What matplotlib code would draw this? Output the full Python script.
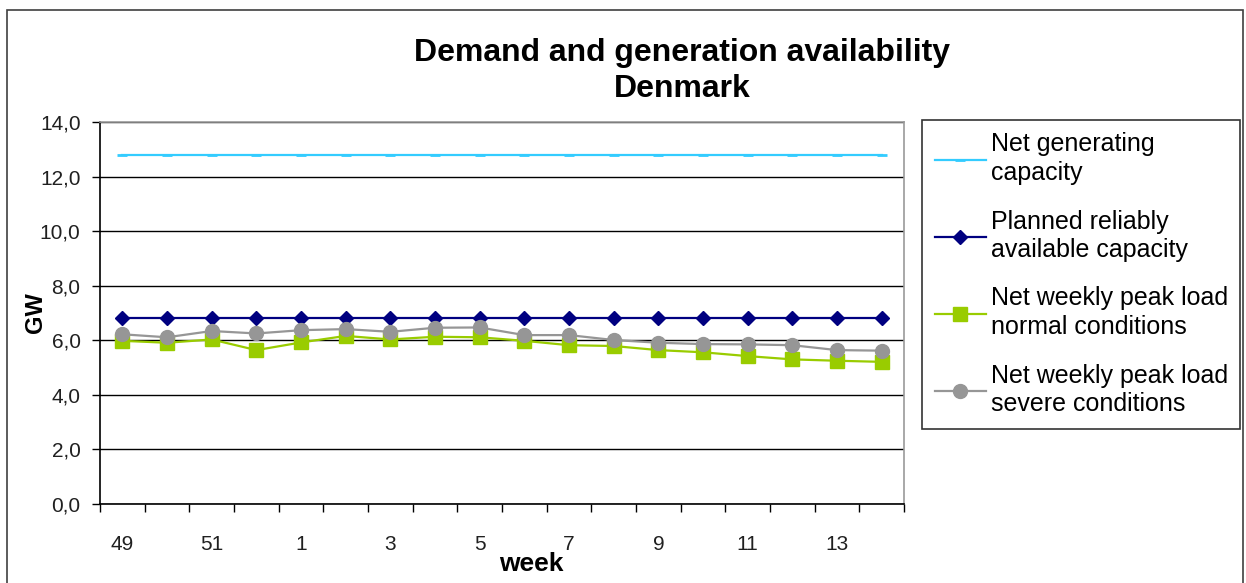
import matplotlib.pyplot as plt
import numpy as np
from matplotlib.patches import Rectangle
from matplotlib.lines import Line2D

plt.rcParams['font.family'] = ['Liberation Sans', 'DejaVu Sans']

# данные
weeks = ['49', '50', '51', '52', '1', '2', '3', '4', '5',
         '6', '7', '8', '9', '10', '11', '12', '13', '14']
net_capacity = [12.8] * 18
reliable_capacity = [6.8] * 18
load_normal = [5.98, 5.91, 6.03, 5.64, 5.92, 6.16, 6.03, 6.13, 6.11,
               5.98, 5.82, 5.79, 5.64, 5.56, 5.42, 5.30, 5.25, 5.21]
load_severe = [6.22, 6.11, 6.34, 6.25, 6.37, 6.41, 6.31, 6.46, 6.47,
               6.19, 6.19, 6.01, 5.91, 5.86, 5.85, 5.82, 5.64, 5.62]
labels = ['Net generating\ncapacity',
          'Planned reliably\navailable capacity',
          'Net weekly peak load\nnormal conditions',
          'Net weekly peak load\nsevere conditions']

W, H = 1246, 583
fig = plt.figure(figsize=(W / 100, H / 100), dpi=100)
fig.patches.append(Rectangle((7 / W, -0.1), (1243 - 7) / W, 1 - 10 / H + 0.1,
                             transform=fig.transFigure, fill=False,
                             edgecolor='#404040', linewidth=1.2))

ax = fig.add_axes([100 / W, (H - 504) / H, 804 / W, (504 - 122) / H])
x = np.arange(len(weeks))

ax.plot(x, net_capacity, color='#33CCFF', lw=1.6, marker='_', ms=7,
        mew=2, zorder=3)
ax.plot(x, reliable_capacity, color='#000080', lw=1.6, marker='D', ms=7,
        zorder=3)
ax.plot(x, load_normal, color='#99CC00', lw=1.6, marker='s', ms=10,
        zorder=4)
ax.plot(x, load_severe, color='#969696', lw=1.6, marker='o', ms=10,
        zorder=5)

ax.set_xlim(-0.5, len(weeks) - 0.5)
ax.set_ylim(0, 14)
ax.set_yticks(np.arange(0, 14.1, 2))
ax.set_yticklabels([f'{v:.1f}'.replace('.', ',') for v in np.arange(0, 14.1, 2)],
                   fontsize=15, color='#202020')
ax.yaxis.grid(True, color='black', lw=1)
ax.set_axisbelow(True)

# подписи недель через одну, засечки между категориями
ax.set_xticks(x[::2])
ax.set_xticklabels(weeks[::2], fontsize=15, color='#202020')
ax.tick_params(axis='x', length=0, pad=22)
ax.set_xticks(np.arange(-0.5, len(weeks)), minor=True)
ax.tick_params(axis='x', which='minor', length=6, width=1, direction='out')
ax.tick_params(axis='y', length=6, width=1, direction='out', pad=8)

for side in ['left', 'bottom']:
    ax.spines[side].set_color('black')
    ax.spines[side].set_linewidth(1.2)
for side in ['top', 'right']:
    ax.spines[side].set_color('#999999')
    ax.spines[side].set_linewidth(1.2)

ax.set_xlabel('week', fontsize=19, fontweight='bold')
ax.xaxis.set_label_coords(0.537, -0.126)
ax.set_ylabel('GW', fontsize=17, fontweight='bold')
ax.yaxis.set_label_coords(-0.066, 0.5)

fig.text(682 / W, 1 - 71 / H, 'Demand and generation availability\nDenmark',
         ha='center', va='center', fontsize=23, fontweight='bold',
         linespacing=1.25)

handles = [
    Line2D([], [], color='#33CCFF', lw=1.6, marker='_', ms=7, mew=2),
    Line2D([], [], color='#000080', lw=1.6, marker='D', ms=7),
    Line2D([], [], color='#99CC00', lw=1.6, marker='s', ms=10),
    Line2D([], [], color='#969696', lw=1.6, marker='o', ms=10),
]
leg = fig.legend(handles, labels, loc='upper left',
                 bbox_to_anchor=(922 / W, 1 - 120 / H),
                 fontsize=18, frameon=True, fancybox=False,
                 edgecolor='black', borderpad=0.5, labelspacing=0.97,
                 handlelength=2.05, handletextpad=0.2, borderaxespad=0)
leg.get_frame().set_linewidth(1.2)
for t in leg.get_texts():
    t.set_linespacing(1.25)

fig.savefig('out.png', dpi=100)
